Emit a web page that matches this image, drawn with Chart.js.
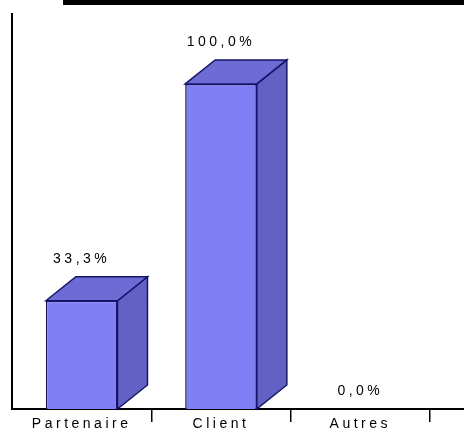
<!DOCTYPE html>
<html>
<head>
<meta charset="utf-8">
<script src="https://cdn.jsdelivr.net/npm/chart.js@4/dist/chart.umd.min.js"></script>
<style>
  html, body { margin: 0; padding: 0; background: #fff; }
  #wrap { width: 464px; height: 434px; }
</style>
</head>
<body>
<div id="wrap"><canvas id="chart"></canvas></div>
<script>
const categories = ['Partenaire', 'Client', 'Autres'];
const values = [33.3, 100.0, 0.0];

function formatPct(v) {
    return v.toFixed(1).replace('.', ',') + '%';
}

// depth of the fake 3d boxes
const DX = 30, DY = 24;

const cubePlugin = {
    id: 'cube',
    beforeDraw(chart) {
        const ctx = chart.ctx;
        ctx.letterSpacing = '3.5px';
        // thick line left over from the page header
        ctx.save();
        ctx.fillStyle = '#000';
        ctx.fillRect(63, 0, 401, 5);
        ctx.restore();
    },
    afterDatasetsDraw(chart) {
        const ctx = chart.ctx;
        const meta = chart.getDatasetMeta(0);
        ctx.save();
        ctx.lineWidth = 1.5;
        ctx.strokeStyle = '#14146a';
        meta.data.forEach((bar, i) => {
            const p = bar.getProps(['x', 'y', 'base', 'width'], true);
            const l = p.x - p.width / 2, r = p.x + p.width / 2;
            if (p.base - p.y < 1) return;
            // side
            ctx.beginPath();
            ctx.moveTo(r, p.y);
            ctx.lineTo(r + DX, p.y - DY);
            ctx.lineTo(r + DX, p.base - DY);
            ctx.lineTo(r, p.base);
            ctx.closePath();
            ctx.fillStyle = '#6262c4';
            ctx.fill();
            ctx.stroke();
            // top
            ctx.beginPath();
            ctx.moveTo(l, p.y);
            ctx.lineTo(l + DX, p.y - DY);
            ctx.lineTo(r + DX, p.y - DY);
            ctx.lineTo(r, p.y);
            ctx.closePath();
            ctx.fillStyle = '#6c6cd4';
            ctx.fill();
            ctx.stroke();
        });
        // value labels
        ctx.fillStyle = '#000';
        ctx.font = '14px "Liberation Sans", Arial, sans-serif';
        ctx.letterSpacing = '3.5px';
        ctx.textAlign = 'center';
        ctx.textBaseline = 'middle';
        meta.data.forEach((bar, i) => {
            const p = bar.getProps(['x', 'y', 'base'], true);
            const lift = (p.base - p.y < 1) ? 0 : DY;
            ctx.fillText(formatPct(values[i]), p.x, p.y - lift - 18);
        });
        ctx.restore();
    }
};

const config = {
    type: 'bar',
    data: {
        labels: categories,
        datasets: [{
            data: values,
            backgroundColor: '#8080f6',
            borderColor: '#14146a',
            borderWidth: 1.5,
            categoryPercentage: 1,
            barPercentage: 0.514
        }]
    },
    options: {
        responsive: false,
        animation: false,
        layout: { padding: { top: 14, right: 34, left: 0, bottom: 0 } },
        plugins: {
            legend: { display: false },
            tooltip: { enabled: false }
        },
        scales: {
            x: {
                afterFit: s => { s.height = 25; },
                grid: {
                    drawOnChartArea: false,
                    tickLength: 13,
                    lineWidth: 1.5,
                    color: c => c.index === 0 ? 'rgba(0,0,0,0)' : '#000'
                },
                border: { display: true, color: '#000', width: 2 },
                ticks: {
                    color: '#000',
                    padding: -6,
                    font: { family: '"Liberation Sans", Arial, sans-serif', size: 14 },
                    maxRotation: 0
                }
            },
            y: {
                min: 0,
                max: 121.5,
                afterFit: s => { s.width = 12; },
                grid: { display: false },
                border: { display: true, color: '#000', width: 2 },
                ticks: { display: false }
            }
        }
    },
    plugins: [cubePlugin]
};

const canvas = document.getElementById('chart');
canvas.width = 464;
canvas.height = 434;
const myChart = new Chart(canvas, config);

// extend the floor line past the last category
const ca = myChart.chartArea;
const c2 = myChart.ctx;
c2.save();
c2.strokeStyle = '#000';
c2.lineWidth = 2;
c2.beginPath();
c2.moveTo(ca.right, ca.bottom);
c2.lineTo(464, ca.bottom);
c2.stroke();
c2.restore();
</script>
</body>
</html>
